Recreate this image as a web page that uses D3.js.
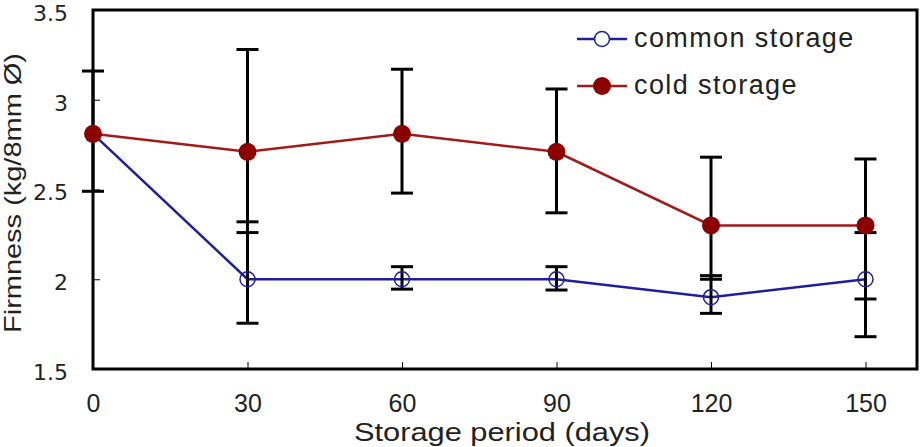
<!DOCTYPE html>
<html>
<head>
<meta charset="utf-8">
<script src="https://cdn.jsdelivr.net/npm/d3@7"></script>
<style>
  body { margin: 0; background: #fff; }
  svg { display: block; }
</style>
</head>
<body>
<script>
// Data
var days = [0, 30, 60, 90, 120, 150];
var commonVals = [2.81, 2.0, 2.0, 2.0, 1.9, 2.0];
var coldVals = [2.81, 2.71, 2.81, 2.71, 2.3, 2.3];
// error bar ends (upper / lower)
var commonHi = [null, 2.32, 2.07, 2.07, 2.02, 2.26];
var commonLo = [null, 1.755, 1.945, 1.94, 1.81, 1.68];
var coldHi = [3.16, 3.28, 3.17, 3.06, 2.68, 2.67];
var coldLo = [2.49, 2.26, 2.48, 2.37, 2.0, 1.89];
var yTicks = [1.5, 2, 2.5, 3, 3.5];
var seriesNames = ["common storage", "cold storage"];

var width = 921, height = 447;
var margin = {left: 93, right: 4, top: 10, bottom: 78};

var svg = d3.select("body").append("svg")
    .attr("width", width)
    .attr("height", height);

var x = d3.scaleLinear().domain([0, 160]).range([margin.left, width - margin.right]);
var y = d3.scaleLinear().domain([1.5, 3.5]).range([height - margin.bottom, margin.top]);

var blue = "#1e1e9e", red = "#a31a1a", redFill = "#8c0000";

// x axis (ticks pointing inward)
var gx = svg.append("g")
    .attr("transform", "translate(0," + y(1.5) + ")")
    .call(d3.axisBottom(x).tickValues(days).tickSizeInner(-7).tickSizeOuter(0));
gx.select(".domain").remove();
gx.selectAll(".tick line").attr("stroke", "#000").attr("stroke-width", 1);
gx.selectAll(".tick text")
    .attr("y", 43).attr("dy", null)
    .attr("font-family", "Liberation Sans, Arial, sans-serif")
    .attr("font-size", 25).attr("fill", "#222");

// y axis
var gy = svg.append("g")
    .attr("transform", "translate(" + x(0) + ",0)")
    .call(d3.axisLeft(y).tickValues(yTicks).tickFormat(d3.format("")).tickSizeInner(-7).tickSizeOuter(0));
gy.select(".domain").remove();
gy.selectAll(".tick line").attr("stroke", "#000").attr("stroke-width", 1);
gy.selectAll(".tick text")
    .attr("x", -25).attr("dy", "0.47em")
    .attr("font-family", "DejaVu Sans, sans-serif")
    .attr("font-size", 22).attr("fill", "#222");

// frame
svg.append("rect")
    .attr("x", x(0)).attr("y", y(3.5))
    .attr("width", x(160) - x(0)).attr("height", y(1.5) - y(3.5))
    .attr("fill", "none").attr("stroke", "#000").attr("stroke-width", 3);

// axis titles
svg.append("text")
    .attr("x", (x(0) + x(160)) / 2 - 3).attr("y", 441)
    .attr("text-anchor", "middle")
    .attr("font-family", "Liberation Sans, Arial, sans-serif")
    .attr("font-size", 25).attr("fill", "#222")
    .attr("textLength", 296).attr("lengthAdjust", "spacingAndGlyphs")
    .text("Storage period (days)");

svg.append("text")
    .attr("transform", "translate(21,193) rotate(-90)")
    .attr("text-anchor", "middle")
    .attr("font-family", "Liberation Sans, Arial, sans-serif")
    .attr("font-size", 24).attr("fill", "#222")
    .attr("textLength", 280).attr("lengthAdjust", "spacingAndGlyphs")
    .text("Firmness (kg/8mm Ø)");

// lines
var line = d3.line()
    .x(function(d) { return x(d[0]); })
    .y(function(d) { return y(d[1]); });

svg.append("path")
    .datum(d3.zip(days, commonVals))
    .attr("d", line)
    .attr("fill", "none").attr("stroke", blue).attr("stroke-width", 2.5);

svg.append("path")
    .datum(d3.zip(days, coldVals))
    .attr("d", line)
    .attr("fill", "none").attr("stroke", red).attr("stroke-width", 2.5);

// error bars
var bars = [];
days.forEach(function(d, i) {
    if (coldHi[i] != null) bars.push([d, coldHi[i], coldLo[i]]);
    if (commonHi[i] != null) bars.push([d, commonHi[i], commonLo[i]]);
});

var eb = svg.append("g").attr("stroke", "#000").attr("stroke-width", 3);
bars.forEach(function(b) {
    eb.append("line")
        .attr("x1", x(b[0])).attr("x2", x(b[0]))
        .attr("y1", y(b[1])).attr("y2", y(b[2]));
    [b[1], b[2]].forEach(function(v) {
        eb.append("line")
            .attr("x1", x(b[0]) - 11).attr("x2", x(b[0]) + 11)
            .attr("y1", y(v)).attr("y2", y(v));
    });
});

// markers
svg.selectAll(".common-pt")
    .data(d3.zip(days, commonVals))
    .enter().append("circle")
    .attr("class", "common-pt")
    .attr("cx", function(d) { return x(d[0]); })
    .attr("cy", function(d) { return y(d[1]); })
    .attr("r", 7.5)
    .attr("fill", "none").attr("stroke", blue).attr("stroke-width", 1.5);

svg.selectAll(".cold-pt")
    .data(d3.zip(days, coldVals))
    .enter().append("circle")
    .attr("class", "cold-pt")
    .attr("cx", function(d) { return x(d[0]); })
    .attr("cy", function(d) { return y(d[1]); })
    .attr("r", 9)
    .attr("fill", redFill);

// legend
var legend = svg.append("g");
var legY = [39, 86];
var legColor = [blue, red];

seriesNames.forEach(function(name, i) {
    legend.append("line")
        .attr("x1", 577).attr("x2", 627)
        .attr("y1", legY[i]).attr("y2", legY[i])
        .attr("stroke", legColor[i]).attr("stroke-width", 2.5);
    var c = legend.append("circle")
        .attr("cx", 602).attr("cy", legY[i]);
    if (i == 0) c.attr("r", 7.5).attr("fill", "#fff").attr("stroke", blue).attr("stroke-width", 1.5);
    else c.attr("r", 9).attr("fill", redFill);
    legend.append("text")
        .attr("x", 634).attr("y", legY[i] + 8)
        .attr("font-family", "Liberation Sans, Arial, sans-serif")
        .attr("font-size", 27).attr("letter-spacing", 1.4)
        .attr("fill", "#222")
        .text(name);
});
</script>
</body>
</html>
